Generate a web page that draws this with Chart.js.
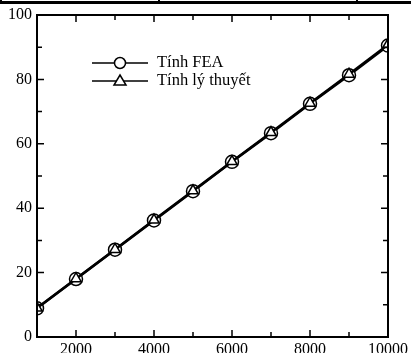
<!DOCTYPE html>
<html>
<head>
<meta charset="utf-8">
<script src="https://cdn.jsdelivr.net/npm/chart.js@4/dist/chart.umd.min.js"></script>
<style>
  html, body { margin: 0; padding: 0; background: #fff; }
  #wrap { position: relative; width: 411px; height: 353px; overflow: hidden; }
  #chart { position: absolute; left: 0; top: 0; }
  .rule { position: absolute; background: #000; }
</style>
</head>
<body>
<div id="wrap">
  <canvas id="chart" width="411" height="353"></canvas>
  <!-- table border remnant at the top of the crop -->
  <div class="rule" style="left:0;top:1px;width:411px;height:3px"></div>
  <div class="rule" style="left:0;top:0;width:2px;height:4px"></div>
  <div class="rule" style="left:158px;top:0;width:2px;height:4px"></div>
  <div class="rule" style="left:356px;top:0;width:2px;height:4px"></div>
</div>
<script>
/* ===== DATA ===== */
const loads = [1000, 2000, 3000, 4000, 5000, 6000, 7000, 8000, 9000, 10000];
const feaValues = [8.9, 18.0, 27.1, 36.2, 45.3, 54.4, 63.3, 72.4, 81.3, 90.5];
const theoryValues = [9.0, 18.1, 27.2, 36.3, 45.4, 54.5, 63.5, 72.6, 81.6, 90.8];
const seriesNames = ['Tính FEA', 'Tính lý thuyết'];
const xTicks = [2000, 4000, 6000, 8000, 10000];
const yTicks = [0, 20, 40, 60, 80, 100];

const FONT = "'Liberation Serif', 'Times New Roman', serif";

/* ===== FRAME, INWARD TICKS, LEGEND ===== */
const framePlugin = {
  id: 'frame',
  afterDatasetsDraw(chart) {
    const { ctx, chartArea: a, scales: { x, y } } = chart;
    ctx.save();
    ctx.strokeStyle = '#000';
    ctx.lineWidth = 2;
    ctx.strokeRect(a.left, a.top, a.right - a.left, a.bottom - a.top);

    ctx.lineWidth = 1.5;
    ctx.beginPath();
    for (let v = 1000; v <= 10000; v += 1000) {
      const px = x.getPixelForValue(v);
      const len = v % 2000 === 0 ? 7 : 5;
      ctx.moveTo(px, a.bottom); ctx.lineTo(px, a.bottom - len);
      ctx.moveTo(px, a.top); ctx.lineTo(px, a.top + len);
    }
    for (let v = 0; v <= 100; v += 10) {
      const py = y.getPixelForValue(v);
      const len = v % 20 === 0 ? 7 : 5;
      ctx.moveTo(a.left, py); ctx.lineTo(a.left + len, py);
      ctx.moveTo(a.right, py); ctx.lineTo(a.right - len, py);
    }
    ctx.stroke();

    // legend
    const rows = [{ y: 63, style: 'circle' }, { y: 81, style: 'triangle' }];
    rows.forEach((r, i) => {
      ctx.lineWidth = 1.5;
      ctx.beginPath();
      ctx.moveTo(92, r.y); ctx.lineTo(148, r.y);
      ctx.stroke();
      ctx.fillStyle = '#fff';
      ctx.beginPath();
      if (r.style === 'circle') {
        ctx.arc(120, r.y, 5.5, 0, Math.PI * 2);
      } else {
        ctx.moveTo(120, r.y - 6); ctx.lineTo(126, r.y + 4); ctx.lineTo(114, r.y + 4); ctx.closePath();
      }
      ctx.fill(); ctx.stroke();
      ctx.fillStyle = '#000';
      ctx.font = '16.5px ' + FONT;
      ctx.textBaseline = 'middle';
      ctx.fillText(seriesNames[i], 157, r.y);
    });
    ctx.restore();
  }
};

const toPoints = vals => loads.map((v, i) => ({ x: v, y: vals[i] }));

new Chart(document.getElementById('chart'), {
  type: 'line',
  data: {
    datasets: [{
      label: seriesNames[0],
      data: toPoints(feaValues),
      order: 2,
      borderColor: '#000',
      borderWidth: 2.5,
      pointStyle: 'circle',
      pointRadius: 6.5,
      pointBorderWidth: 1.5,
      pointBackgroundColor: '#fff',
      pointBorderColor: '#000',
      tension: 0
    }, {
      label: seriesNames[1],
      data: toPoints(theoryValues),
      order: 1,
      borderColor: '#000',
      borderWidth: 2.5,
      pointStyle: 'triangle',
      pointRadius: 6,
      pointBorderWidth: 1.5,
      pointBackgroundColor: '#fff',
      pointBorderColor: '#000',
      tension: 0
    }]
  },
  options: {
    responsive: false,
    animation: false,
    layout: { padding: { top: 15, right: 23, left: 0, bottom: 0 } },
    plugins: { legend: { display: false }, tooltip: { enabled: false } },
    scales: {
      x: {
        type: 'linear',
        min: 1000, max: 10000,
        afterFit: s => { s.height = 16; },
        afterBuildTicks: s => { s.ticks = xTicks.map(v => ({ value: v })); },
        grid: { display: false, drawTicks: false },
        border: { display: false },
        ticks: { color: '#000', padding: 3, maxRotation: 0, callback: v => String(v), font: { family: FONT, size: 16 } }
      },
      y: {
        min: 0, max: 100,
        afterFit: s => { s.width = 37; },
        afterBuildTicks: s => { s.ticks = yTicks.map(v => ({ value: v })); },
        grid: { display: false, drawTicks: false },
        border: { display: false },
        ticks: { color: '#000', padding: 5, callback: v => String(v), font: { family: FONT, size: 16 } }
      }
    }
  },
  plugins: [framePlugin]
});
</script>
</body>
</html>
